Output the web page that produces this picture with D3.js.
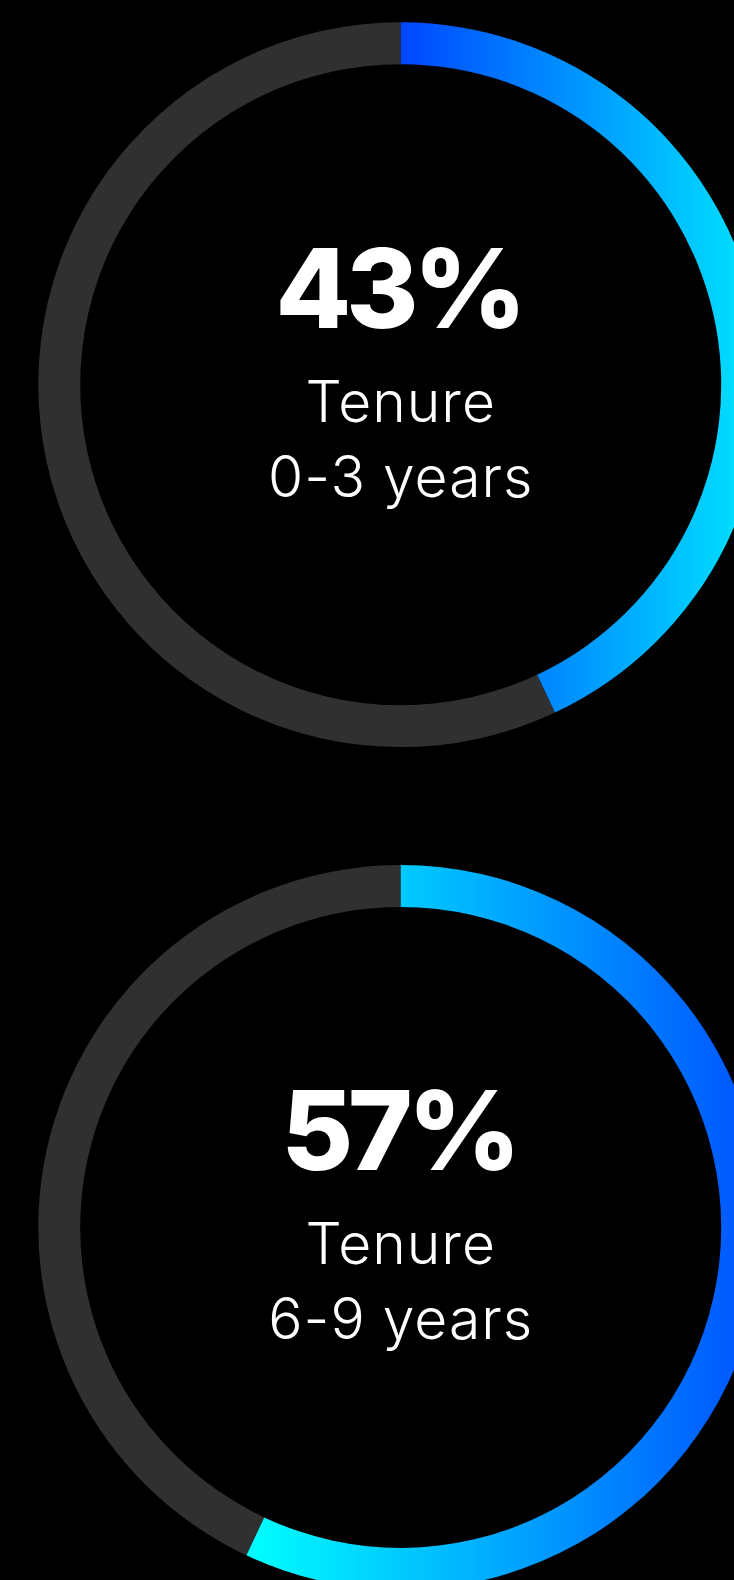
<!DOCTYPE html>
<html>
<head>
    <title>Tenure donuts</title>
    <style>
        body, html {
            margin: 0;
            padding: 0;
            width: 100%;
            height: 100%;
            overflow: hidden;
            background: #000;
        }
        #chart {
            display: block;
        }
        .big {
            font-family: Inter, "Noto Sans", sans-serif;
            font-weight: 800;
            fill: #fff;
            letter-spacing: -5px;
        }
        .small {
            font-family: Inter, "Noto Sans", sans-serif;
            font-weight: 300;
            fill: #fff;
            letter-spacing: 1px;
        }
    </style>
    <script src="https://d3js.org/d3.v7.min.js"></script>
</head>
<body>

<svg id="chart"></svg>

<script>
// values
const percents = [43, 57];
const titles = ['Tenure', 'Tenure'];
const ranges = ['0-3 years', '6-9 years'];
// gradient colours, left to right across each arc
const gradStart = ['#0047ff', '#00ffff'];
const gradEnd = ['#00e8ff', '#0050ff'];

const width = 734;
const height = 1580;
const cx = 400.7;
const centersY = [384.7, 1227.4];
const outerR = 362.4;
const innerR = 320.5;

const svg = d3.select('#chart')
    .attr('width', width)
    .attr('height', height);

svg.append('rect')
    .attr('width', width)
    .attr('height', height)
    .attr('fill', '#000');

const angle = d3.scaleLinear().domain([0, 100]).range([0, 2 * Math.PI]);

const arc = d3.arc()
    .innerRadius(innerR)
    .outerRadius(outerR);

const defs = svg.append('defs');

percents.forEach((p, i) => {
    const grad = defs.append('linearGradient')
        .attr('id', 'grad' + i)
        .attr('x1', 0).attr('x2', 1)
        .attr('y1', 0).attr('y2', 0);
    grad.append('stop').attr('offset', '0%').attr('stop-color', gradStart[i]);
    grad.append('stop').attr('offset', '100%').attr('stop-color', gradEnd[i]);

    const g = svg.append('g')
        .attr('transform', `translate(${cx},${centersY[i]})`);

    // grey track for the rest of the circle
    g.append('path')
        .attr('d', arc({ startAngle: angle(p), endAngle: angle(100) }))
        .attr('fill', '#303030');

    g.append('path')
        .attr('d', arc({ startAngle: angle(0), endAngle: angle(p) }))
        .attr('fill', `url(#grad${i})`);

    g.append('text')
        .attr('class', 'big')
        .attr('text-anchor', 'middle')
        .attr('x', -2)
        .attr('y', -57)
        .style('font-size', '110px')
        .text(p + '%');

    g.append('text')
        .attr('class', 'small')
        .attr('text-anchor', 'middle')
        .attr('y', 37)
        .style('font-size', '57px')
        .text(titles[i]);

    g.append('text')
        .attr('class', 'small')
        .attr('text-anchor', 'middle')
        .attr('y', 112)
        .style('font-size', '57px')
        .text(ranges[i]);
});
</script>

</body>
</html>
